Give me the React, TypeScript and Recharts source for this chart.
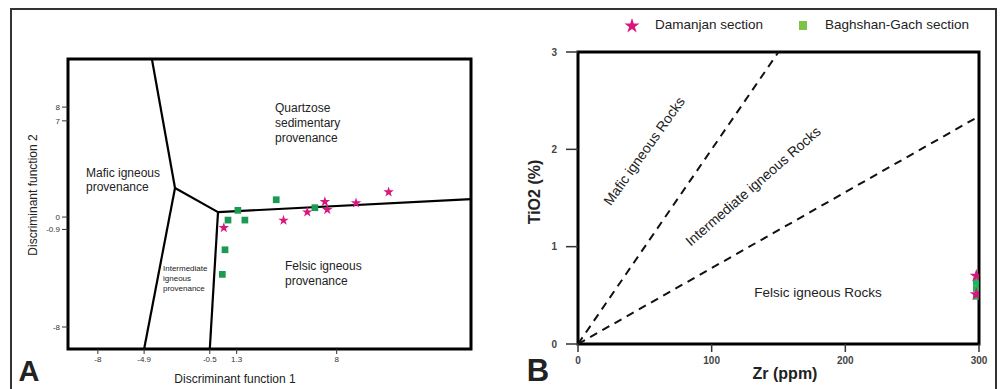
import React from 'react';
import { ScatterChart, Scatter, XAxis, YAxis, ReferenceLine, ReferenceArea, Symbols } from 'recharts';

// Panel A: discriminant function diagram
const damanjanA = [
  { x: 0.44, y: -0.78 },
  { x: 4.44, y: -0.24 },
  { x: 6.03, y: 0.36 },
  { x: 7.21, y: 1.11 },
  { x: 7.37, y: 0.53 },
  { x: 9.3, y: 1.02 },
  { x: 11.48, y: 1.82 },
];
const baghshanA = [
  { x: 1.38, y: 0.49 },
  { x: 0.72, y: -0.22 },
  { x: 1.85, y: -0.22 },
  { x: 3.95, y: 1.26 },
  { x: 6.54, y: 0.68 },
  { x: 0.52, y: -2.38 },
  { x: 0.34, y: -4.17 },
];
const fieldBoundsA = [
  [{ x: -4.38, y: 11.5 }, { x: -2.83, y: 2.11 }],
  [{ x: -2.83, y: 2.11 }, { x: -4.9, y: -9.6 }],
  [{ x: -2.83, y: 2.11 }, { x: 0.05, y: 0.36 }],
  [{ x: 0.05, y: 0.36 }, { x: -0.5, y: -9.6 }],
  [{ x: 0.05, y: 0.36 }, { x: 17, y: 1.31 }],
];
const xDomainA = [-10, 17];
const yDomainA = [-9.6, 11.5];
const xTicksA = [-8, -4.9, -0.5, 1.3, 8];
const yTicksA = [8, 7, 0, -0.9, -8];

// Panel B: TiO2 vs Zr
const damanjanB = [
  { zr: 298, ti: 0.7 },
  { zr: 298, ti: 0.51 },
];
const baghshanB = [
  { zr: 298, ti: 0.64 },
  { zr: 298, ti: 0.57 },
  { zr: 298, ti: 0.49 },
];
const dividersB = [
  { zr: 150, ti: 3 },
  { zr: 300, ti: 2.34 },
];
const xTicksB = [0, 100, 200, 300];
const yTicksB = [0, 1, 2, 3];

const PINK = '#d8177e';
const GREEN = '#1a9a52';
const GREEN_B = '#1fb35a';
const FONT = '"Liberation Sans", Arial, sans-serif';

const star = (size: number) => (p: any) => (
  <Symbols cx={p.cx} cy={p.cy} type="star" size={size} fill={PINK} />
);
const square = (size: number, color: string) => (p: any) => (
  <Symbols cx={p.cx} cy={p.cy} type="square" size={size} fill={color} />
);

const Note = ({ x, y, size = 12, rotate = 0, weight = 400, align = 'center', lh, children }: any) => (
  <div
    style={{
      position: 'absolute',
      left: x,
      top: y,
      transform: align === 'center' ? `translate(-50%, -50%) rotate(${rotate}deg)` : undefined,
      fontSize: size,
      fontWeight: weight,
      lineHeight: lh ? `${lh}px` : 'normal',
      whiteSpace: 'nowrap',
      color: '#222',
      fontFamily: FONT,
    }}
  >
    {children}
  </div>
);

const PanelA = () => (
  <ScatterChart width={500} height={389} margin={{ top: 59, right: 29, bottom: 0, left: 0 }}>
    <XAxis
      type="number"
      dataKey="x"
      domain={xDomainA}
      ticks={xTicksA}
      interval={0}
      allowDataOverflow
      axisLine={false}
      tickSize={5}
      tickMargin={2}
      tickLine={{ stroke: '#333' }}
      tick={{ fontSize: 8, fill: '#333', fontFamily: FONT }}
      height={40}
    />
    <YAxis
      type="number"
      dataKey="y"
      domain={yDomainA}
      ticks={yTicksA}
      interval={0}
      allowDataOverflow
      axisLine={false}
      tickSize={6}
      tickMargin={2}
      tickLine={{ stroke: '#333' }}
      tick={{ fontSize: 8, fill: '#333', fontFamily: FONT }}
      width={68}
    />
    <ReferenceArea
      x1={xDomainA[0]}
      x2={xDomainA[1]}
      y1={yDomainA[0]}
      y2={yDomainA[1]}
      fill="none"
      stroke="#000"
      strokeWidth={3}
      ifOverflow="visible"
    />
    {fieldBoundsA.map((seg, i) => (
      <ReferenceLine key={i} segment={seg} stroke="#000" strokeWidth={2.2} ifOverflow="visible" />
    ))}
    <Scatter data={baghshanA} shape={square(45, GREEN)} isAnimationActive={false} />
    <Scatter data={damanjanA} shape={star(34)} isAnimationActive={false} />
  </ScatterChart>
);

const PanelB = () => (
  <ScatterChart width={501} height={389} margin={{ top: 52, right: 22, bottom: 0, left: 0 }}>
    <XAxis
      type="number"
      dataKey="zr"
      domain={[0, 300]}
      ticks={xTicksB}
      interval={0}
      allowDataOverflow
      axisLine={false}
      tickSize={8}
      tickMargin={5}
      tickLine={{ stroke: '#333', strokeWidth: 1.5 }}
      tick={{ fontSize: 10, fill: '#444', fontWeight: 700, fontFamily: FONT }}
      height={45}
    />
    <YAxis
      type="number"
      dataKey="ti"
      domain={[0, 3]}
      ticks={yTicksB}
      interval={0}
      allowDataOverflow
      axisLine={false}
      tickSize={12}
      tickMargin={9}
      tickLine={{ stroke: '#333', strokeWidth: 1.5 }}
      tick={{ fontSize: 10, fill: '#444', fontWeight: 700, fontFamily: FONT }}
      width={78}
    />
    <ReferenceArea x1={0} x2={300} y1={0} y2={3} fill="none" stroke="#000" strokeWidth={3} ifOverflow="visible" />
    {dividersB.map((d, i) => (
      <ReferenceLine
        key={i}
        segment={[{ x: 0, y: 0 }, { x: d.zr, y: d.ti }]}
        stroke="#111"
        strokeWidth={2}
        strokeDasharray="8 6"
        ifOverflow="visible"
      />
    ))}
    <Scatter data={baghshanB} shape={square(45, GREEN_B)} isAnimationActive={false} />
    <Scatter data={damanjanB} shape={star(55)} isAnimationActive={false} />
  </ScatterChart>
);

export default function App() {
  return (
    <div
      style={{
        position: 'absolute',
        left: 0,
        top: 0,
        width: 1001,
        height: 389,
        overflow: 'hidden',
        background: '#fff',
        fontFamily: FONT,
      }}
    >
      <div
        style={{
          position: 'absolute',
          left: 10,
          top: 8,
          width: 983,
          height: 400,
          border: '2px solid #333',
        }}
      />
      <div style={{ position: 'absolute', left: 0, top: 0 }}>
        <PanelA />
      </div>
      <div style={{ position: 'absolute', left: 500, top: 0 }}>
        <PanelB />
      </div>

      {/* panel A annotations */}
      <Note x={275} y={101} align="left" lh={15}>
        Quartzose<br />sedimentary<br />provenance
      </Note>
      <Note x={86} y={166} align="left" lh={14}>
        Mafic igneous<br />provenance
      </Note>
      <Note x={163} y={264} size={8} align="left" lh={10}>
        Intermediate<br />igneous<br />provenance
      </Note>
      <Note x={285} y={259} align="left" lh={15}>
        Felsic igneous<br />provenance
      </Note>
      <Note x={235} y={379} size={12}>Discriminant function 1</Note>
      <Note x={33} y={195} size={12} rotate={-90}>Discriminant function 2</Note>
      <Note x={29} y={371} size={29} weight={700}>A</Note>

      {/* panel B annotations */}
      <Note x={644} y={151} size={14} rotate={-54.6}>Mafic igneous Rocks</Note>
      <Note x={753} y={186} size={14} rotate={-41}>Intermediate igneous Rocks</Note>
      <Note x={818} y={292} size={13.5}>Felsic igneous Rocks</Note>
      <Note x={535} y={192} size={16} weight={700} rotate={-90}>TiO2 (%)</Note>
      <Note x={785} y={374} size={16} weight={700}>Zr (ppm)</Note>
      <Note x={538} y={371} size={31} weight={700}>B</Note>

      {/* legend */}
      <svg style={{ position: 'absolute', left: 624, top: 18 }} width={16} height={16}>
        <Symbols cx={8} cy={8} type="star" size={70} fill={PINK} />
      </svg>
      <Note x={655} y={17} size={13.5} align="left">Damanjan section</Note>
      <svg style={{ position: 'absolute', left: 798, top: 20 }} width={12} height={12}>
        <rect x={1} y={1} width={8} height={9} fill="#7cc445" />
      </svg>
      <Note x={825} y={17} size={13.5} align="left">Baghshan-Gach section</Note>
    </div>
  );
}
